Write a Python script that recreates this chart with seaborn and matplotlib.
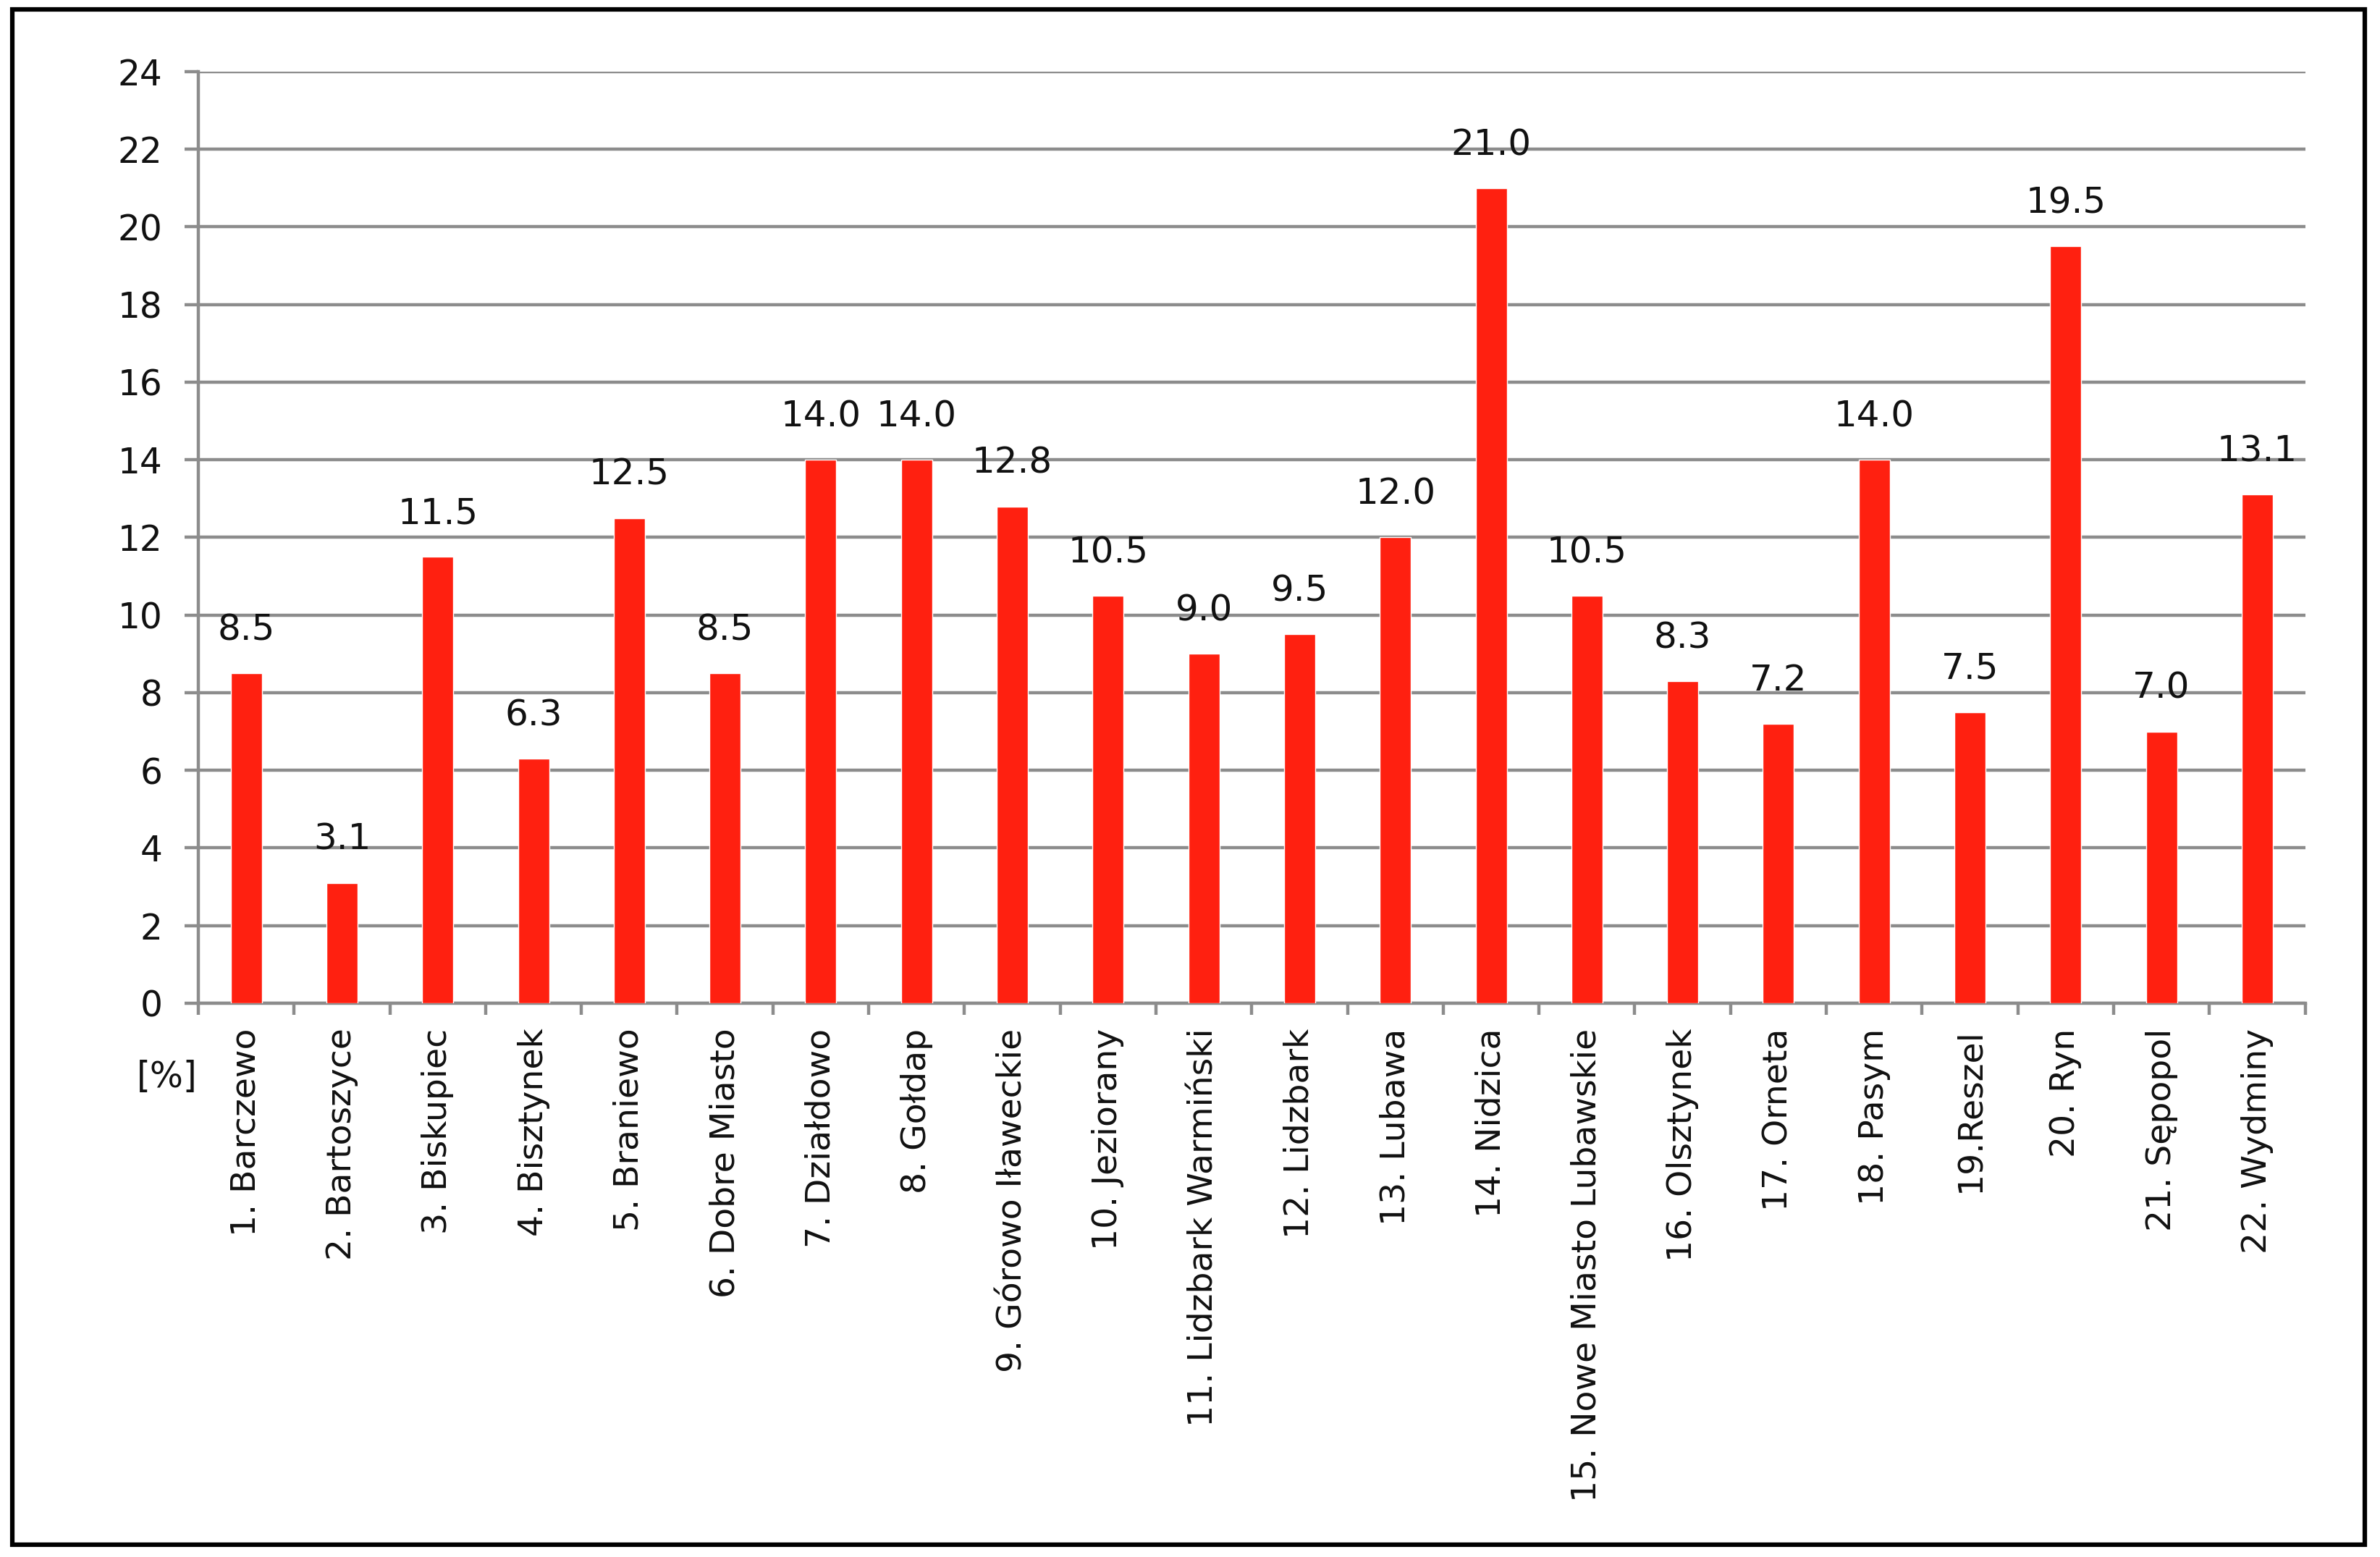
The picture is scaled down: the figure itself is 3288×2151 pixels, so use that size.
import pandas as pd
import matplotlib.pyplot as plt
import seaborn as sns
from matplotlib.patches import Rectangle

# dane
gminy = ["1. Barczewo", "2. Bartoszyce", "3. Biskupiec", "4. Bisztynek", "5. Braniewo",
         "6. Dobre Miasto", "7. Działdowo", "8. Gołdap", "9. Górowo Iławeckie",
         "10. Jeziorany", "11. Lidzbark Warmiński", "12. Lidzbark", "13. Lubawa",
         "14. Nidzica", "15. Nowe Miasto Lubawskie", "16. Olsztynek", "17. Orneta",
         "18. Pasym", "19.Reszel", "20. Ryn", "21. Sępopol", "22. Wydminy"]
wartosci = [8.5, 3.1, 11.5, 6.3, 12.5, 8.5, 14.0, 14.0, 12.8, 10.5, 9.0, 9.5,
            12.0, 21.0, 10.5, 8.3, 7.2, 14.0, 7.5, 19.5, 7.0, 13.1]
y_ticks = list(range(0, 25, 2))

df = pd.DataFrame({"gmina": gminy, "procent": wartosci})

sns.set_style("white")
plt.rcParams['font.family'] = ['DejaVu Sans']

szary = "#8c8c8c"
lw = 3.2

fig = plt.figure(figsize=(32.88, 21.51), dpi=100)
ax = fig.add_axes([274/3288, 0.3557, (1518 - 130)/1568, 0.954 - 0.3557])

sns.barplot(data=df, x="gmina", y="procent", color="#FF2010", width=0.325,
            saturation=1, ax=ax, zorder=3)

# etykiety wartosci
for i, v in enumerate(wartosci):
    ax.annotate(f"{v:.1f}", (i, v), xytext=(0, 43), textcoords="offset points",
                ha="center", va="center", fontsize=36, color="#111111")

ax.set_ylim(0, 24)
ax.set_xlim(-0.5, len(gminy) - 0.5)
ax.set_yticks(y_ticks)
ax.yaxis.grid(True, color=szary, linewidth=lw, zorder=0)
ax.set_axisbelow(True)
ax.set_xlabel("")
ax.set_ylabel("")

for s in ["top", "right"]:
    ax.spines[s].set_visible(False)
for s in ["left", "bottom"]:
    ax.spines[s].set_color(szary)
    ax.spines[s].set_linewidth(lw)

ax.tick_params(axis="y", length=13.5, width=lw, color=szary, pad=22,
               labelsize=35, labelcolor="#111111", left=True)
ax.set_xticks(range(len(gminy)))
ax.set_xticklabels(gminy, rotation=90, va="top", ha="center")
ax.tick_params(axis="x", which="major", length=0, pad=25, labelsize=34,
               labelcolor="#111111")
ax.set_xticks([i - 0.5 for i in range(len(gminy) + 1)], minor=True)
ax.tick_params(axis="x", which="minor", length=11.5, width=lw, color=szary,
               bottom=True)

fig.text(231/3288, 1 - 1488/2151, "[%]", ha="center", va="center", fontsize=35,
         color="#111111")

# ramka
fig.patches.append(Rectangle((8/1568, 8/1026), 1550/1568, 1012/1026,
                             transform=fig.transFigure, fill=False,
                             edgecolor="black", linewidth=4.5))

fig.savefig("out.png", dpi=100, facecolor="white")
